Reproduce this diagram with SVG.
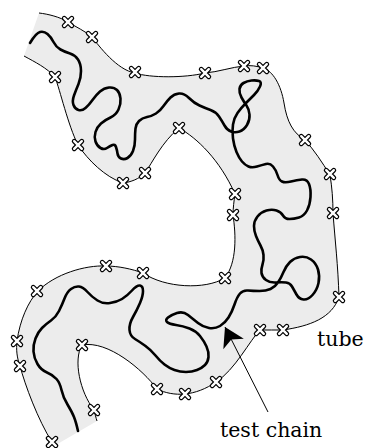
<svg xmlns="http://www.w3.org/2000/svg" xmlns:xlink="http://www.w3.org/1999/xlink" width="366" height="448" viewBox="0 0 366 448">
<style>
.fill{fill:#ececec;stroke:none}
.edge{fill:none;stroke:#000;stroke-width:1}
.chain{fill:none;stroke:#000;stroke-width:2.6;stroke-linecap:round;stroke-linejoin:round}
.xo{fill:none;stroke:#000;stroke-width:4.8;stroke-linecap:round}
.xi{fill:none;stroke:#fff;stroke-width:2.4;stroke-linecap:round}
.lbl{font-family:"DejaVu Serif","Liberation Serif",serif;font-size:20.5px;fill:#000}
.conn{fill:none;stroke:#000;stroke-width:1}
</style>
<defs>
<g id="x"><path class="xo" d="M-3.8,-3.8L3.8,3.8M-3.8,3.8L3.8,-3.8"/><path class="xi" d="M-3.8,-3.8L3.8,3.8M-3.8,3.8L3.8,-3.8"/></g>
<marker id="ah" markerUnits="userSpaceOnUse" markerWidth="24" markerHeight="24" viewBox="-20 -12 22 24" refX="0" refY="0" orient="auto" overflow="visible"><path d="M0,0 L-19,-11.5 L-14,0 L-19,11.5 Z" fill="#000"/></marker>
</defs>
<g id="tube">
<path class="fill" d="M39,13 C48,14 60,17 68,22 C76,27 85,31 92,37 C99,46 117,70 135,73 C150,78 185,78 205,73 C218,72 232,67 244,66 C250,65 257,66 263,68 C273,71 281,85 284,103 C287,122 293,133 305,140 C314,150 322,162 330,175 C332,187 333,200 333,213 C335,240 338,265 339,297 C332,318 310,326 283,330 C275,330 268,330 260,330 C250,340 235,370 216,382 C206,389 195,393 185,394 C175,395 165,393 157,389 C143,370 108,340 82,345 C73,360 80,392 94,410 C95,414 96,418 97,421 L54,446 L52,442 C38,420 25,385 20,366 C17,358 16,350 17,341 C20,320 28,302 38,291 C55,274 85,265 106,266 C118,266 132,269 143,273 C165,288 205,290 225,278 C237,262 236,235 233,215 C233,208 234,201 235,194 C220,160 197,138 179,128 C162,142 152,163 145,173 C139,179 131,182 123,183 C105,177 88,160 78,145 C68,125 60,90 55,77 C47,68 35,62 24,56 Z"/>
<path class="edge" d="M39,13 C48,14 60,17 68,22 C76,27 85,31 92,37 C99,46 117,70 135,73 C150,78 185,78 205,73 C218,72 232,67 244,66 C250,65 257,66 263,68 C273,71 281,85 284,103 C287,122 293,133 305,140 C314,150 322,162 330,175 C332,187 333,200 333,213 C335,240 338,265 339,297 C332,318 310,326 283,330 C275,330 268,330 260,330 C250,340 235,370 216,382 C206,389 195,393 185,394 C175,395 165,393 157,389 C143,370 108,340 82,345 C73,360 80,392 94,410 C95,414 96,418 97,421"/>
<path class="edge" d="M24,56 C35,62 47,68 55,77 C60,90 68,125 78,145 C88,160 105,177 123,183 C131,182 139,179 145,173 C152,163 162,142 179,128 C197,138 220,160 235,194 C234,201 233,208 233,215 C236,235 237,262 225,278 C205,290 165,288 143,273 C132,269 118,266 106,266 C85,265 55,274 38,291 C28,302 20,320 17,341 C16,350 17,358 20,366 C25,385 38,420 52,442"/>
</g>
<g id="test-chain">
<path class="chain" d="M30,43 Q36,33 40,32 Q44,31 47.5,34 Q51,37 53.5,42 Q56,47 60.5,49.5 Q65,52 70,53.5 Q75,55 78,59.5 Q81,64 81,71 Q81,78 78.5,84 Q76,90 74,95.5 Q72,101 73.5,105 Q75,109 78.5,110 Q82,111 85.5,108 Q89,105 92.5,100 Q96,95 100,91.5 Q104,88 109,87.5 Q114,87 117,90 Q120,93 120.5,98.5 Q121,104 118.5,109.5 Q116,115 110.5,117.5 Q105,120 101,123.5 Q97,127 95.5,132 Q94,137 95.5,141.5 Q97,146 100.5,148 Q104,150 107,148 Q110,146 112.5,145 Q115,144 116,147 Q117,150 117.5,153.5 Q118,157 121,158.5 Q124,160 127.5,158 Q131,156 133,151 Q135,146 135,139.5 Q135,133 135.5,128.5 Q136,124 139,121 Q142,118 147,117 Q152,116 156,113.5 Q160,111 163.5,106 Q167,101 170.5,97.5 Q174,94 179,93.5 Q184,93 189,98 Q194,103 199.5,105.5 Q205,108 210.5,110 Q216,112 219,116.5 Q222,121 224.5,125.5 Q227,130 231,131.5 Q235,133 239.5,131.5 Q244,130 247,125 Q250,120 249.5,114.5 Q249,109 246.5,105.5 Q244,102 241.5,97.5 Q239,93 239.5,89 Q240,85 243.5,83 Q247,81 251.5,80.5 Q256,80 259,81 Q262,82 260,86.5 Q258,91 254,95 Q250,99 245.5,103.5 Q241,108 237.5,113 Q234,118 233,124.5 Q232,131 233,138.5 Q234,146 236.5,152 Q239,158 242,161.5 Q245,165 248.5,166.5 Q252,168 257,166.5 Q262,165 266,164 Q270,163 273,166.5 Q276,170 277.5,175 Q279,180 282,181.5 Q285,183 291,181.5 Q297,180 302,179.5 Q307,179 309,184 Q311,189 310.5,197 Q310,205 307,210.5 Q304,216 299,217.5 Q294,219 289.5,219 Q285,219 283,215.5 Q281,212 276.5,210.5 Q272,209 266.5,210.5 Q261,212 257.5,216.5 Q254,221 254,226 Q254,231 256,236 Q258,241 260.5,245.5 Q263,250 263.5,255 Q264,260 262.5,264.5 Q261,269 261.5,273 Q262,277 266,280 Q270,283 276,282.5 Q282,282 286,282.5 Q290,283 292,286.5 Q294,290 296.5,294.5 Q299,299 303.5,299.5 Q308,300 312.5,295 Q317,290 318.5,283 Q320,276 318,269.5 Q316,263 311,259.5 Q306,256 300,257 Q294,258 290,262 Q286,266 283.5,272 Q281,278 278,282.5 Q275,287 270.5,289 Q266,291 259.5,291 Q253,291 248,290.5 Q243,290 240,293.5 Q237,297 234.5,304.5 Q232,312 228.5,317.5 Q225,323 220,326 Q215,329 209,328 Q203,327 198,323 Q193,319 188,315 Q183,311 177,313 Q171,315 168,317.5 Q165,320 167,322 Q169,324 176,325 Q183,326 189.5,328.5 Q196,331 200,336 Q204,341 206.5,346.5 Q209,352 208.5,357 Q208,362 205,365 Q202,368 197,370 Q192,372 186,372 Q180,372 174.5,370 Q169,368 164.5,364.5 Q160,361 155.5,355.5 Q151,350 145.5,346 Q140,342 135,339 Q130,336 129.5,330 Q129,324 133,317 Q137,310 140,303 Q143,296 143,291 Q143,286 140,285.5 Q137,285 132,290.5 Q127,296 122,299 Q117,302 110,303 Q103,304 97.5,300.5 Q92,297 87.5,292 Q83,287 79,286.5 Q75,286 71,289 Q67,292 64.5,298.5 Q62,305 59,311 Q56,317 51,320.5 Q46,324 42,328 Q38,332 35.5,338.5 Q33,345 33.5,351.5 Q34,358 37.5,364 Q41,370 47,372.5 Q53,375 56.5,379 Q60,383 61.5,390 Q63,397 67.5,404.5 Q72,412 74,417 Q76,422 78,431"/>
</g>
<g id="sample-points">
<use xlink:href="#x" href="#x" x="68" y="22"/>
<use xlink:href="#x" href="#x" x="92" y="37"/>
<use xlink:href="#x" href="#x" x="135" y="72"/>
<use xlink:href="#x" href="#x" x="205" y="73"/>
<use xlink:href="#x" href="#x" x="244" y="66"/>
<use xlink:href="#x" href="#x" x="263" y="68"/>
<use xlink:href="#x" href="#x" x="305" y="140"/>
<use xlink:href="#x" href="#x" x="330" y="174"/>
<use xlink:href="#x" href="#x" x="333" y="213"/>
<use xlink:href="#x" href="#x" x="339" y="297"/>
<use xlink:href="#x" href="#x" x="283" y="330"/>
<use xlink:href="#x" href="#x" x="260" y="330"/>
<use xlink:href="#x" href="#x" x="216" y="382"/>
<use xlink:href="#x" href="#x" x="185" y="394"/>
<use xlink:href="#x" href="#x" x="157" y="389"/>
<use xlink:href="#x" href="#x" x="82" y="345"/>
<use xlink:href="#x" href="#x" x="94" y="410"/>
<use xlink:href="#x" href="#x" x="55" y="77"/>
<use xlink:href="#x" href="#x" x="78" y="145"/>
<use xlink:href="#x" href="#x" x="123" y="183"/>
<use xlink:href="#x" href="#x" x="145" y="173"/>
<use xlink:href="#x" href="#x" x="179" y="128"/>
<use xlink:href="#x" href="#x" x="235" y="194"/>
<use xlink:href="#x" href="#x" x="233" y="215"/>
<use xlink:href="#x" href="#x" x="225" y="278"/>
<use xlink:href="#x" href="#x" x="143" y="273"/>
<use xlink:href="#x" href="#x" x="106" y="266"/>
<use xlink:href="#x" href="#x" x="37" y="291"/>
<use xlink:href="#x" href="#x" x="17" y="341"/>
<use xlink:href="#x" href="#x" x="20" y="366"/>
<use xlink:href="#x" href="#x" x="52" y="442"/>
</g>
<g id="connectors">
<path class="conn" d="M268,412 L225,327" marker-end="url(#ah)"/>
</g>
<g id="label-tube"><text class="lbl" x="317" y="346">tube</text></g>
<g id="label-test-chain"><text class="lbl" x="220" y="437">test chain</text></g>
</svg>
